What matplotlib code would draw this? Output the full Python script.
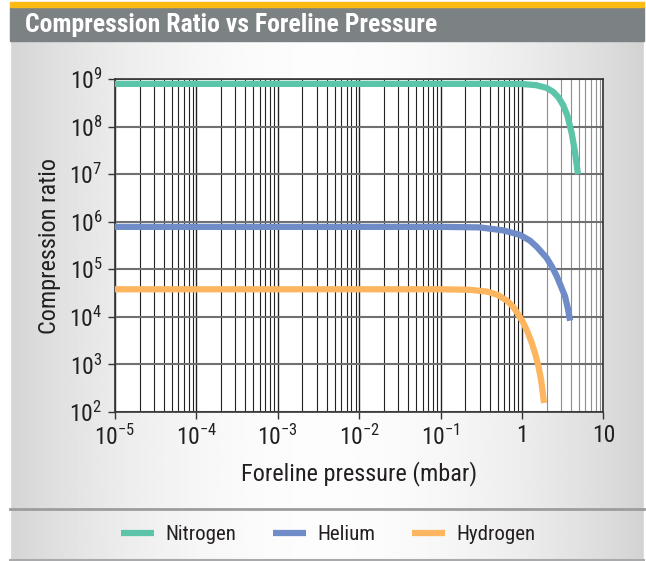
import numpy as np
import matplotlib
matplotlib.use('Agg')
import matplotlib.pyplot as plt
from matplotlib.patches import Rectangle
from matplotlib.lines import Line2D
from matplotlib.ticker import LogLocator, NullFormatter

# data
nitrogen_p = [1e-5, 0.1, 0.5, 1.0, 1.5, 2.0, 2.4, 2.8, 3.2, 3.6, 4.07, 4.4, 4.6, 4.85]
nitrogen_cr = [7.9e8, 7.9e8, 7.9e8, 7.85e8, 7.4e8, 6.5e8, 5.4e8, 4.1e8, 2.8e8, 1.7e8,
               7.2e7, 3.4e7, 2.0e7, 1.0e7]

helium_p = [1e-5, 0.1, 0.3, 0.58, 0.94, 1.25, 1.52, 2.0, 2.35, 2.67, 3.0, 3.37, 3.65, 3.89]
helium_cr = [7.8e5, 7.8e5, 7.6e5, 6.6e5, 5.3e5, 4.0e5, 2.95e5, 1.74e5, 1.1e5, 7.1e4,
             4.4e4, 2.7e4, 1.5e4, 8.3e3]

hydrogen_p = [1e-5, 0.1, 0.23, 0.37, 0.5, 0.65, 0.78, 0.92, 1.04, 1.18, 1.32, 1.46, 1.59,
              1.72, 1.86]
hydrogen_cr = [3.8e4, 3.8e4, 3.7e4, 3.4e4, 2.9e4, 2.2e4, 1.62e4, 1.05e4, 7.4e3, 4.6e3,
               2.8e3, 1.6e3, 9.1e2, 4.5e2, 1.55e2]

series = ['Nitrogen', 'Helium', 'Hydrogen']
colors = ['#5cc4a8', '#6f8cc8', '#fdb55f']

plt.rcParams['font.family'] = ['Roboto Condensed', 'DejaVu Sans']
plt.rcParams['mathtext.fontset'] = 'custom'
plt.rcParams['mathtext.rm'] = 'Roboto Condensed'
plt.rcParams['mathtext.it'] = 'Roboto Condensed'
plt.rcParams['mathtext.bf'] = 'Roboto Condensed:bold'

fig = plt.figure(figsize=(6.46, 5.61), dpi=100)

# background gradient
bg = fig.add_axes([0, 0, 1, 1], zorder=-10)
xx = np.linspace(-1, 1, 400)
grad = 0.825 + 0.165 * (1 - xx ** 2)
bg.imshow(np.tile(grad, (10, 1)), cmap='gray', vmin=0, vmax=1,
          aspect='auto', extent=[0, 1, 0, 1])
bg.set_xlim(0, 1)
bg.set_ylim(0, 1)
bg.axis('off')

W, H = 646, 561
# white margins
fig.patches.append(Rectangle((0, 0), 10 / W, 1, transform=fig.transFigure,
                             color='white', zorder=-4))
fig.patches.append(Rectangle((644 / W, 0), 2 / W, 1, transform=fig.transFigure,
                             color='white', zorder=-4))
fig.patches.append(Rectangle((0, 1 - 2 / H), 1, 2 / H, transform=fig.transFigure,
                             color='white', zorder=-4))
# title band
fig.patches.append(Rectangle((10 / W, 1 - 41 / H), 634 / W, 34 / H, transform=fig.transFigure,
                             color='#7c8184', zorder=-3))
fig.patches.append(Rectangle((10 / W, 1 - 7 / H), 634 / W, 5 / H, transform=fig.transFigure,
                             color='#fbbb12', zorder=-3))
fig.text(25 / W, 1 - 25 / H, 'Compression Ratio vs Foreline Pressure', color='white',
         fontsize=18.5, fontweight='bold', va='center', ha='left')

# legend box lines
fig.lines.append(Line2D([10 / W, 644 / W], [1 - 509 / H] * 2, transform=fig.transFigure,
                        color='#9c9d9f', lw=2))
fig.lines.append(Line2D([10 / W, 644 / W], [1 - 560 / H] * 2, transform=fig.transFigure,
                        color='#a9aaac', lw=1.5))

ax = fig.add_axes([115 / W, 1 - 412 / H, (603.5 - 115) / W, (412 - 79) / H])
ax.set_facecolor('white')
for p, cr, name, c in zip([nitrogen_p, helium_p, hydrogen_p],
                          [nitrogen_cr, helium_cr, hydrogen_cr], series, colors):
    ax.plot(p, cr, color=c, lw=4.5, label=name, solid_capstyle='butt',
            solid_joinstyle='round', zorder=3)

ax.set_xscale('log')
ax.set_yscale('log')
ax.set_xlim(1e-5, 10)
ax.set_ylim(1e2, 1e9)
ax.set_xticks([1e-5, 1e-4, 1e-3, 1e-2, 1e-1, 1, 10])
ax.set_xticklabels(['$10^{-5}$', '$10^{-4}$', '$10^{-3}$', '$10^{-2}$', '$10^{-1}$', '1', '10'])
ax.set_yticks([10.0 ** k for k in range(2, 10)])
ax.set_yticklabels(['$10^{%d}$' % k for k in range(2, 10)])
ax.xaxis.set_minor_locator(LogLocator(base=10, subs=np.arange(2, 10), numticks=20))
ax.xaxis.set_minor_formatter(NullFormatter())
ax.yaxis.set_minor_locator(plt.NullLocator())
ax.tick_params(which='major', length=5, width=1, color='#333333', labelsize=17,
               labelcolor='#231f20', pad=4)
ax.tick_params(which='minor', length=0)
ax.grid(True, which='major', axis='x', color='#222222', lw=1)
ax.grid(True, which='minor', axis='x', color='#222222', lw=0.8)
ax.grid(True, which='major', axis='y', color='#707070', lw=1.5)
fig.canvas.draw()
for t in ax.xaxis.get_minor_ticks():
    if t.get_loc() > 1.01:
        t.gridline.set_color('#8e8e8e')
for s in ax.spines.values():
    s.set_color('#333333')
    s.set_linewidth(1.2)

ax.set_xlabel('Foreline pressure (mbar)', fontsize=17.5, color='#231f20', labelpad=8)
ax.set_ylabel('Compression ratio', fontsize=17.5, color='#231f20', labelpad=6)

fig.legend(loc='center', bbox_to_anchor=(0.508, 1 - 535 / H), ncol=3, frameon=False,
           fontsize=15, handlelength=1.6, columnspacing=1.75, handletextpad=0.55,
           labelcolor='#231f20')

fig.savefig('out.png', dpi=100)
